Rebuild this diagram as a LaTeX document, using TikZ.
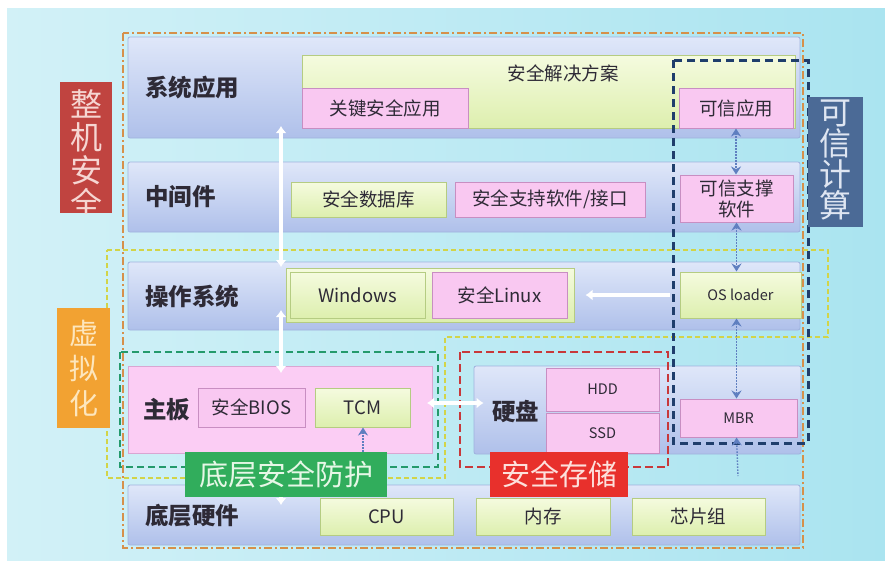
\documentclass[tikz,border=0pt]{standalone}
\usepackage{fontspec}
\setmainfont{Noto Sans CJK SC}
\usetikzlibrary{arrows.meta}
\definecolor{bgL}{HTML}{D2F1F7}
\definecolor{bgR}{HTML}{AAE4F0}
\definecolor{layerT}{HTML}{DFE7F9}
\definecolor{layerB}{HTML}{AFC0EA}
\definecolor{layerD}{HTML}{9FB2DE}
\definecolor{pbarF}{HTML}{FBCDF4}
\definecolor{pbarD}{HTML}{D9A6D2}
\definecolor{gT}{HTML}{F5FBDF}
\definecolor{gB}{HTML}{DDEFAE}
\definecolor{gD}{HTML}{B5CC82}
\definecolor{pF}{HTML}{F9C8F1}
\definecolor{pD}{HTML}{C88EC2}
\definecolor{orD}{HTML}{D6904A}
\definecolor{yeD}{HTML}{D2D448}
\definecolor{grD}{HTML}{249A6C}
\definecolor{reD}{HTML}{C8383A}
\definecolor{blD}{HTML}{1F3E6C}
\definecolor{zjC}{HTML}{C04440}
\definecolor{zjT}{HTML}{F6D6D2}
\definecolor{kxC}{HTML}{4B6A96}
\definecolor{kxT}{HTML}{DFE6F2}
\definecolor{xnC}{HTML}{F2A232}
\definecolor{xnT}{HTML}{FDE6BD}
\definecolor{dcC}{HTML}{31AD5C}
\definecolor{dcT}{HTML}{E6F7E6}
\definecolor{aqC}{HTML}{E8302C}
\definecolor{aqT}{HTML}{FDE0DC}
\definecolor{arrB}{HTML}{5F7FC0}
\definecolor{txt}{HTML}{2E2A36}
\tikzset{bhead/.tip={Stealth[length=8pt,width=10pt]}}
% box: style, name, x1, y1, x2, y2, text
\newcommand\bx[7]{\node[#1, inner sep=0pt, minimum width={(#5-#3)*1pt}, minimum height={(#6-#4)*1pt}] (#2) at ({(#3+#5)/2},{(#4+#6)/2}) {#7};}
\begin{document}
\begin{tikzpicture}[x=1pt,y=-1pt,
  layer/.style={draw=layerD, top color=layerT, bottom color=layerB, rounded corners=2pt, line width=0.8pt},
  pbar/.style={draw=pbarD, fill=pbarF, line width=0.8pt},
  lab/.style={font=\bfseries\fontsize{23.5}{25}\selectfont, text=txt, anchor=west, inner sep=0pt},
  gbox/.style={draw=gD, top color=gT, bottom color=gB, line width=1pt, font=\fontsize{18.5}{21}\selectfont, text=txt},
  pbox/.style={draw=pD, fill=pF, line width=1pt, font=\fontsize{18.5}{21}\selectfont, text=txt},
  small/.style={font=\fontsize{14.5}{16}\selectfont},
  warrow/.style={draw=white, line width=3.5pt, {Latex[length=7pt,width=11pt]}-{Latex[length=7pt,width=11pt]}},
  barrow/.style={draw=arrB, line width=1.4pt, dash pattern=on 1.5pt off 1.5pt},
  tag/.style={inner sep=0pt, align=center}
]
\useasboundingbox (0,0) rectangle (885,568);
\fill[white] (0,0) rectangle (885,568);
\shade[left color=bgL, right color=bgR] (7,8) rectangle (885,560);

% outer dash-dot box
\draw[orD, line width=2pt, dash pattern=on 8pt off 3pt on 2pt off 3pt] (123,33) rectangle (803,548);

% layer bars
\bx{layer}{L1}{128}{37}{800}{138}{}
\bx{layer}{L2}{128}{162}{800}{232}{}
\bx{layer}{L3}{128}{262}{800}{330}{}
\bx{pbar}{L4a}{128}{366}{432}{453}{}
\bx{layer}{L4b}{474}{366}{801}{454}{}
\bx{layer}{L5}{128}{485}{800}{545}{}

\node[lab] (t1) at (145,88) {系统应用};
\node[lab] (t2) at (145,197) {中间件};
\node[lab] (t3) at (145,297) {操作系统};
\node[lab] (t4) at (143,410) {主板};
\node[lab] (t4b) at (492,411) {硬盘};
\node[lab] (t5) at (145,516) {底层硬件};

% layer 1
\bx{gbox}{sol}{302}{55}{795}{128}{}
\node[inner sep=0pt, font=\fontsize{18.5}{21}\selectfont, text=txt] (soltxt) at (563,73) {安全解决方案};
\bx{pbox}{gjaq}{302}{88}{468}{128}{关键安全应用}
\bx{pbox}{kxyy}{679}{88}{793}{128}{可信应用}

% layer 2
\bx{gbox}{sjk}{291}{182}{446}{217}{安全数据库}
\bx{pbox}{zcrj}{455}{182}{645}{217}{安全支持软件/接口}
\bx{pbox,align=center,font=\fontsize{18.5}{21}\selectfont}{kxzc}{680}{175}{793}{222}{可信支撑\\软件}

% layer 3
\bx{gbox}{osgrp}{286}{268}{574}{322}{}
\bx{gbox}{win}{290}{272}{425}{318}{Windows}
\bx{pbox}{linux}{432}{272}{567}{318}{安全Linux}
\bx{gbox,small}{osl}{680}{272}{801}{318}{OS loader}

% layer 4
\bx{pbox}{bios}{198}{388}{305}{427}{安全BIOS}
\bx{gbox}{tcm}{315}{388}{410}{427}{TCM}
\bx{pbox,small}{hdd}{546}{368}{659}{411}{HDD}
\bx{pbox,small}{ssd}{546}{413}{659}{453}{SSD}
\bx{pbox,small}{mbr}{680}{399}{797}{437}{MBR}

% layer 5
\bx{gbox}{cpu}{320}{498}{453}{535}{CPU}
\bx{gbox}{mem}{476}{498}{610}{535}{内存}
\bx{gbox}{chip}{632}{498}{765}{535}{芯片组}

% dashed regions
\draw[yeD, line width=2pt, dash pattern=on 5pt off 3pt] (107,250) -- (828,250) -- (828,337) -- (445,337) -- (445,478) -- (107,478) -- cycle;
\draw[grD, line width=2.6pt, dash pattern=on 7pt off 4pt] (120,352) rectangle (438,467);
\draw[reD, line width=2.8pt, dash pattern=on 8pt off 4pt] (460,352) rectangle (668,467);
\draw[blD, line width=3pt, dash pattern=on 8pt off 5pt] (673,60) rectangle (808,443);

% white arrows
\coordinate (w1) at (281,126);
\coordinate (w2) at (281,267);
\coordinate (w3) at (281,310);
\coordinate (w4) at (281,373);
\coordinate (w5) at (281,453);
\coordinate (w6) at (281,505);
\draw[warrow] (w1) -- (w2);
\draw[warrow] (w3) -- (w4);
\draw[warrow] (w5) -- (w6);
\coordinate (m1) at (432,403);
\draw[warrow, shorten <=-5pt, shorten >=-10pt] (m1) -- (m1 -| L4b.west);
\draw[draw=white, line width=3.5pt, -{Latex[length=7pt,width=11pt]}, shorten <=10pt, shorten >=18pt] (osl.west) -- (linux.east);

% blue dotted arrows
\draw[barrow, bhead-bhead] (kxyy.south) -- (kxyy.south |- kxzc.north);
\draw[barrow, bhead-bhead] (kxzc.south) -- (kxzc.south |- osl.north);
\draw[barrow, bhead-bhead] (kxzc.south |- osl.south) -- (kxzc.south |- mbr.north);
\coordinate (mbrend) at (738,476);
\draw[barrow, bhead-] (kxzc.south |- mbr.south) -- (mbrend);
\coordinate (tcmend) at (363,452);
\draw[barrow, bhead-] (tcm.south -| tcmend) -- (tcmend);

% side tags
\bx{fill=zjC}{zj}{60}{82}{112}{213}{}
\begin{scope}
\clip (zj.south west) rectangle (zj.north east);
\node[tag, text=zjT, font=\fontsize{32}{33}\selectfont, anchor=north] (zjtxt) at (86,89) {整\\机\\安\\全};
\end{scope}
\bx{fill=xnC}{xn}{57}{308}{110}{428}{}
\node[tag, text=xnT, font=\fontsize{29}{35}\selectfont] (xntxt) at (xn.center) {虚\\拟\\化};
\bx{fill=kxC}{kx}{808}{97}{863}{227}{}
\begin{scope}
\clip (kx.south west) rectangle (kx.north east);
\node[tag, text=kxT, font=\fontsize{32}{31}\selectfont, anchor=north] (kxtxt) at (835.5,100) {可\\信\\计\\算};
\end{scope}
\bx{fill=dcC, text=dcT, font=\fontsize{29}{31}\selectfont}{dc}{185}{452}{387}{497}{底层安全防护}
\bx{fill=aqC, text=aqT, font=\fontsize{29}{31}\selectfont}{aq}{490}{452}{628}{497}{安全存储}
\end{tikzpicture}
\end{document}
